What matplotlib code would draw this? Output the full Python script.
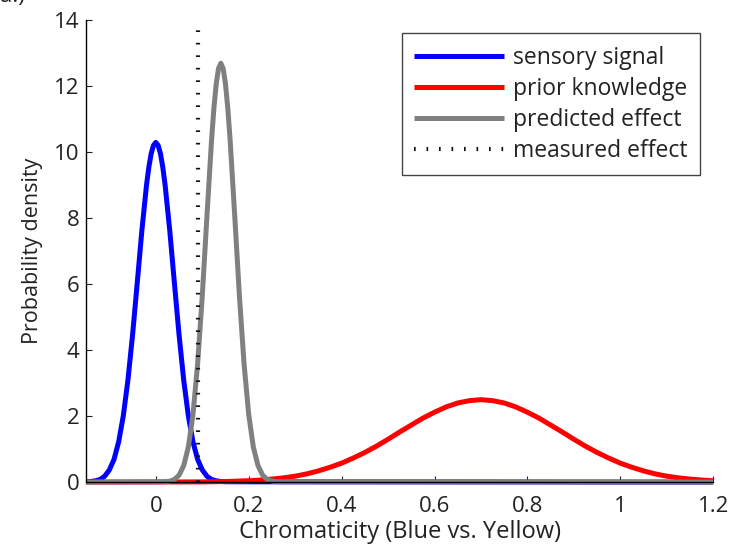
import matplotlib
matplotlib.use('Agg')
import matplotlib.pyplot as plt

plt.rcParams['font.family'] = ['Open Sans', 'DejaVu Sans']

# sensory signal (blue)
sens_x = [-0.15, -0.14, -0.13, -0.12, -0.11, -0.10, -0.09, -0.08, -0.07, -0.06,
          -0.05, -0.04, -0.03, -0.02, -0.015, -0.01, -0.005, 0.0, 0.005, 0.01,
          0.015, 0.02, 0.03, 0.04, 0.05, 0.06, 0.07, 0.08, 0.09, 0.10,
          0.11, 0.12, 0.13, 0.14, 0.15, 1.2]
sens_y = [0.01, 0.02, 0.04, 0.08, 0.18, 0.37, 0.69, 1.22, 2.01, 3.10,
          4.47, 6.04, 7.63, 9.01, 9.55, 9.96, 10.21, 10.30, 10.21, 9.96,
          9.55, 9.01, 7.63, 6.04, 4.47, 3.10, 2.01, 1.22, 0.69, 0.37,
          0.18, 0.08, 0.04, 0.02, 0.01, 0.0]

# prior knowledge (red)
prior_x = [-0.15, 0.10, 0.15, 0.20, 0.225, 0.25, 0.275, 0.30, 0.325, 0.35,
           0.375, 0.40, 0.425, 0.45, 0.475, 0.50, 0.525, 0.55, 0.575, 0.60,
           0.625, 0.65, 0.675, 0.70, 0.725, 0.75, 0.775, 0.80, 0.825, 0.85,
           0.875, 0.90, 0.925, 0.95, 0.975, 1.00, 1.025, 1.05, 1.075, 1.10,
           1.125, 1.15, 1.175, 1.20]
prior_y = [0.0, 0.007, 0.018, 0.042, 0.063, 0.092, 0.13, 0.18, 0.25, 0.34,
           0.45, 0.575, 0.73, 0.90, 1.09, 1.30, 1.52, 1.73, 1.94, 2.12,
           2.28, 2.40, 2.47, 2.50, 2.47, 2.40, 2.28, 2.12, 1.94, 1.73,
           1.52, 1.30, 1.09, 0.90, 0.73, 0.575, 0.45, 0.34, 0.25, 0.18,
           0.13, 0.092, 0.063, 0.042]

# predicted effect (gray)
pred_x = [-0.15, 0.02, 0.03, 0.04, 0.05, 0.06, 0.07, 0.08, 0.09, 0.10,
          0.11, 0.12, 0.125, 0.13, 0.135, 0.14, 0.145, 0.15, 0.155, 0.16,
          0.17, 0.18, 0.19, 0.20, 0.21, 0.22, 0.23, 0.24, 0.25, 0.26, 1.2]
pred_y = [0.0, 0.01, 0.03, 0.08, 0.21, 0.50, 1.06, 2.05, 3.58, 5.64,
          8.05, 10.37, 11.33, 12.07, 12.54, 12.70, 12.54, 12.07, 11.33, 10.37,
          8.05, 5.64, 3.58, 2.05, 1.06, 0.50, 0.21, 0.08, 0.03, 0.01, 0.0]

# measured effect (dotted vertical line)
meas_x = 0.09
meas_y = [0, 14]

labels = ['sensory signal', 'prior knowledge', 'predicted effect', 'measured effect']
xticks = [0, 0.2, 0.4, 0.6, 0.8, 1, 1.2]
xtick_labels = ['0', '0.2', '0.4', '0.6', '0.8', '1', '1.2']
yticks = [0, 2, 4, 6, 8, 10, 12, 14]

fig = plt.figure(figsize=(7.30, 5.51), dpi=100)
ax = fig.add_axes([0.118, 0.125, 0.859, 0.838])

lw = 3.6
ax.plot(sens_x, sens_y, color='#0000ff', lw=lw, label=labels[0], clip_on=False,
        solid_capstyle='butt')
ax.plot(prior_x, prior_y, color='#ff0000', lw=lw, label=labels[1], clip_on=False,
        solid_capstyle='butt')
ax.plot(pred_x, pred_y, color='#808080', lw=lw, label=labels[2], clip_on=False,
        solid_capstyle='butt')
ax.plot([meas_x, meas_x], meas_y, color='#111111', lw=3.0, dashes=(0.4, 2.6),
        label=labels[3], clip_on=False)

ax.set_xlim(-0.15, 1.2)
ax.set_ylim(0, 14)
ax.set_xticks(xticks)
ax.set_xticklabels(xtick_labels)
ax.set_yticks(yticks)
ax.tick_params(direction='in', length=4, width=0.8, labelsize=16, colors='#222222')
ax.tick_params(axis='x', pad=10)
ax.tick_params(axis='y', pad=5)
for s in ['top', 'right']:
    ax.spines[s].set_visible(False)
for s in ['left', 'bottom']:
    ax.spines[s].set_linewidth(1.0)

ax.set_xlabel('Chromaticity (Blue vs. Yellow)', fontsize=17, color='#222222', labelpad=2)
ax.set_ylabel('Probability density', fontsize=15.5, color='#222222', labelpad=8)

leg = ax.legend(loc='upper right', bbox_to_anchor=(0.979, 0.972), borderaxespad=0,
                fontsize=16.5, handlelength=3.9, handletextpad=0.4, labelspacing=0.3,
                fancybox=False, edgecolor='#444444', framealpha=1, borderpad=0.55)
leg.get_frame().set_linewidth(1.0)
for t in leg.get_texts():
    t.set_color('#222222')

fig.text(0.0, 1.006, 'a.)', fontsize=16, ha='left', va='center', color='#222222')

fig.savefig('out.png', dpi=100)
